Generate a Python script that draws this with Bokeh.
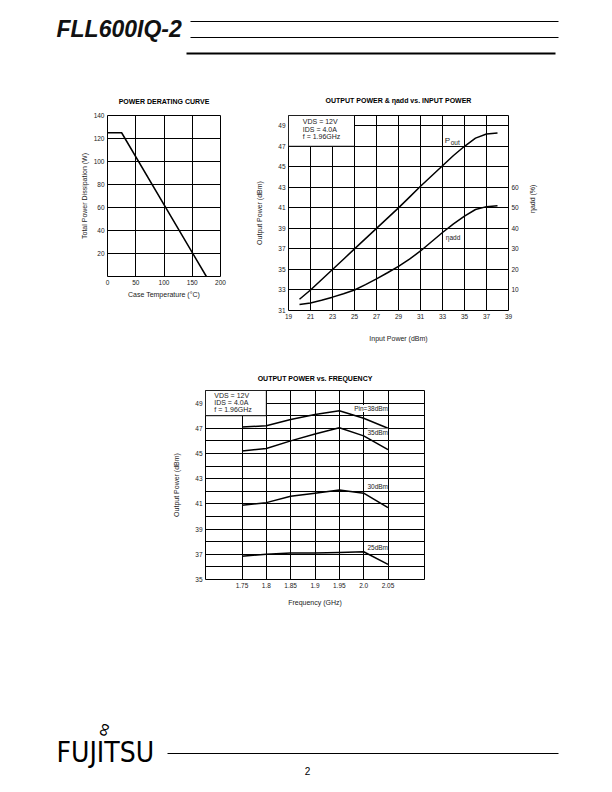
import math
from bokeh.plotting import figure
from bokeh.layouts import column, row
from bokeh.models import Range1d, LinearAxis, FixedTicker, Spacer, Label
from bokeh.embed import file_html
from bokeh.resources import INLINE
from bokeh.core.properties import value

FONT = "Liberation Sans"

# ---------------- data ----------------
derate_temp = [0, 25, 175]
derate_power = [125, 125, 0]

pin_dbm = [20, 21, 22, 23, 24, 25, 26, 27, 28, 29, 30, 31, 32, 33, 34, 35, 36, 37, 38]
pout_dbm = [32.1, 33.0, 34.0, 35.0, 36.0, 37.0, 38.0, 39.0, 40.0, 41.0, 42.05, 43.1,
            44.1, 45.1, 46.1, 47.0, 47.8, 48.2, 48.3]
eff_pct = [2.9, 3.7, 5.0, 6.5, 8.2, 10.0, 12.6, 15.4, 18.4, 21.5, 25.0, 29.0,
           33.5, 38.0, 42.2, 46.0, 49.2, 50.6, 51.0]

freq_ghz = [1.75, 1.80, 1.85, 1.90, 1.95, 2.00, 2.05]
pout_pin38 = [47.1, 47.2, 47.7, 48.1, 48.4, 47.8, 47.0]
pout_pin35 = [45.2, 45.4, 46.0, 46.55, 47.05, 46.4, 45.3]
pout_pin30 = [40.9, 41.1, 41.6, 41.85, 42.1, 41.85, 40.7]
pout_pin25 = [36.85, 37.0, 37.1, 37.1, 37.15, 37.2, 36.2]
freq_series = [(pout_pin38, "Pin=38dBm", 48.57), (pout_pin35, "35dBm", 46.7),
               (pout_pin30, "30dBm", 42.38), (pout_pin25, "25dBm", 37.56)]

derate_xticks = [0, 50, 100, 150, 200]
derate_yticks = [20, 40, 60, 80, 100, 120, 140]
pin_xticks = [19, 21, 23, 25, 27, 29, 31, 33, 35, 37, 39]
pout_yticks = [31, 33, 35, 37, 39, 41, 43, 45, 47, 49]
eff_yticks = [10, 20, 30, 40, 50, 60]
freq_yticks = [35, 37, 39, 41, 43, 45, 47, 49]
freq_labels = {1.75: "1.75", 1.8: "1.8", 1.85: "1.85", 1.9: "1.9", 1.95: "1.95", 2.0: "2.0", 2.05: "2.05"}
cond_text = ["VDS = 12V", "IDS = 4.0A", "f = 1.96GHz"]


def base_fig(w, h, xr, yr, l, r, t, b):
    p = figure(width=w, height=h, x_range=xr, y_range=yr, output_backend="svg",
               toolbar_location=None, min_border_left=l, min_border_right=r,
               min_border_top=t, min_border_bottom=b)
    p.outline_line_color = "black"
    p.outline_line_width = 1
    p.outline_line_alpha = 1
    p.grid.grid_line_color = "black"
    p.grid.grid_line_width = 1
    p.grid.grid_line_alpha = 1
    return p


def style_axis(ax, label, standoff):
    ax.axis_label = label
    ax.axis_line_color = None
    ax.major_tick_line_color = None
    ax.minor_tick_line_color = None
    ax.major_tick_out = 0
    ax.major_tick_in = 0
    ax.minor_tick_out = 0
    ax.minor_tick_in = 0
    ax.major_label_text_font = FONT
    ax.major_label_text_font_size = "6.5px"
    ax.major_label_text_color = "#222222"
    ax.major_label_standoff = 3
    ax.axis_label_text_font = FONT
    ax.axis_label_text_font_size = "7px"
    ax.axis_label_text_font_style = "normal"
    ax.axis_label_text_color = "#222222"
    ax.axis_label_standoff = standoff


def txt(p, x, y, s, size="7px", align="left", **kw):
    p.add_layout(Label(x=x, y=y, text=s, text_font=FONT, text_font_size=size,
                       text_align=align, text_baseline="middle", text_color="#222222", **kw))


def chart_title(p, s, standoff):
    ax = LinearAxis(ticker=FixedTicker(ticks=[]))
    style_axis(ax, s, standoff)
    ax.major_label_standoff = 0
    ax.axis_label_text_font_style = "bold"
    ax.axis_label_text_color = "black"
    p.add_layout(ax, "above")


# ---------------- header ----------------
hdr = figure(width=612, height=80, x_range=Range1d(0, 612), y_range=Range1d(80, 0),
             output_backend="svg", toolbar_location=None, min_border=0,
             x_axis_location=None, y_axis_location=None)
hdr.grid.visible = False
hdr.outline_line_color = None
hdr.text(x=[56], y=[28.5], text=["FLL600IQ-2"], text_font=value(FONT), text_font_size="23px",
         text_font_style="bold italic", text_baseline="middle", text_color="#111111")
hdr.segment(x0=[190, 190, 186], y0=[21, 37, 53], x1=[558, 558, 555], y1=[21, 37, 53],
            line_color="black", line_width=[1, 1, 2])

# ---------------- power derating ----------------
p1 = base_fig(190, 236, Range1d(0, 200), Range1d(0, 140), 52, 25, 35, 40)
chart_title(p1, "POWER DERATING CURVE", 11)
p1.below[0].ticker = FixedTicker(ticks=derate_xticks)
p1.left[0].ticker = FixedTicker(ticks=derate_yticks)
p1.xgrid.ticker = FixedTicker(ticks=[50, 100, 150])
p1.ygrid.ticker = FixedTicker(ticks=[20, 40, 60, 80, 100, 120])
style_axis(p1.below[0], "Case Temperature (°C)", 3)
style_axis(p1.left[0], "Total Power Dissipation (W)", 3)
p1.line(derate_temp, derate_power, line_color="black", line_width=1.5)

# ---------------- output power vs input power ----------------
p2 = base_fig(300, 270, Range1d(19, 39), Range1d(31, 50), 43, 37, 35, 40)
chart_title(p2, "OUTPUT POWER & ηadd vs. INPUT POWER", 12)
p2.extra_y_ranges = {"eff": Range1d(0, 95)}
p2.below[0].ticker = FixedTicker(ticks=pin_xticks)
p2.left[0].ticker = FixedTicker(ticks=pout_yticks)
p2.xgrid.ticker = FixedTicker(ticks=pin_xticks[1:-1])
p2.ygrid.ticker = FixedTicker(ticks=pout_yticks[1:])
style_axis(p2.below[0], "Input Power (dBm)", 13)
style_axis(p2.left[0], "Output Power (dBm)", 12)
rax = LinearAxis(y_range_name="eff", ticker=FixedTicker(ticks=eff_yticks))
style_axis(rax, "ηadd (%)", 11)
rax.axis_label_orientation = math.pi / 2
p2.add_layout(rax, "right")
p2.quad(left=[19], right=[25], bottom=[47], top=[50], fill_color="white",
        line_color="black", line_width=1)
for i, s in enumerate(cond_text):
    txt(p2, 20.3, [49.42, 48.64, 47.96][i], s)
p2.line(pin_dbm, pout_dbm, line_color="black", line_width=1.5)
p2.line(pin_dbm, eff_pct, y_range_name="eff", line_color="black", line_width=1.5)
txt(p2, 33.2, 47.55, "P", size="8px")
txt(p2, 33.2, 47.35, "out", size="6.5px", x_offset=6)
txt(p2, 33.3, 38.1, "ηadd", size="6.5px")

# ---------------- output power vs frequency ----------------
p3 = base_fig(310, 270, Range1d(1.675, 2.125), Range1d(35, 50), 55, 36, 40, 41)
chart_title(p3, "OUTPUT POWER vs. FREQUENCY", 9)
p3.below[0].ticker = FixedTicker(ticks=freq_ghz)
p3.below[0].major_label_overrides = freq_labels
p3.left[0].ticker = FixedTicker(ticks=freq_yticks)
p3.xgrid.ticker = FixedTicker(ticks=freq_ghz)
p3.ygrid.ticker = FixedTicker(ticks=list(range(36, 50)))
style_axis(p3.below[0], "Frequency (GHz)", 8)
style_axis(p3.left[0], "Output Power (dBm)", 12)
p3.quad(left=[1.675], right=[1.8], bottom=[48], top=[50], fill_color="white",
        line_color="black", line_width=1)
for i, s in enumerate(cond_text):
    txt(p3, 1.693, [49.6, 49.05, 48.5][i], s)
for ys, lab, ly in freq_series:
    p3.line(freq_ghz, ys, line_color="black", line_width=1.5)
    txt(p3, 2.05, ly, lab, size="6.5px", align="right", background_fill_color="white")

# ---------------- footer ----------------
ftr = figure(width=612, height=170, x_range=Range1d(0, 612), y_range=Range1d(790, 620),
             output_backend="svg", toolbar_location=None, min_border=0,
             x_axis_location=None, y_axis_location=None)
ftr.grid.visible = False
ftr.outline_line_color = None
ftr.text(x=[56], y=[752], text=["FUJITSU"],
         text_font=value("'Liberation Sans Narrow', 'DejaVu Sans Condensed', sans-serif"),
         text_font_size="28px", text_baseline="middle", text_color="black")
ftr.text(x=[103], y=[729], text=["∞"], text_font=value(FONT), text_font_size="19px",
         angle=1.25, text_align="center", text_baseline="middle", text_color="black")
ftr.segment(x0=[167], y0=[753], x1=[558], y1=[753], line_color="black", line_width=1)
ftr.text(x=[307], y=[770], text=["2"], text_font=value(FONT), text_font_size="10px",
         text_align="center", text_baseline="middle", text_color="black")

layout = column(hdr,
                row(Spacer(width=55, height=270), p1, p2, Spacer(width=67, height=270)),
                row(Spacer(width=150, height=270), p3, Spacer(width=152, height=270)),
                ftr)

open("out.html", "w").write(file_html(layout, INLINE))
